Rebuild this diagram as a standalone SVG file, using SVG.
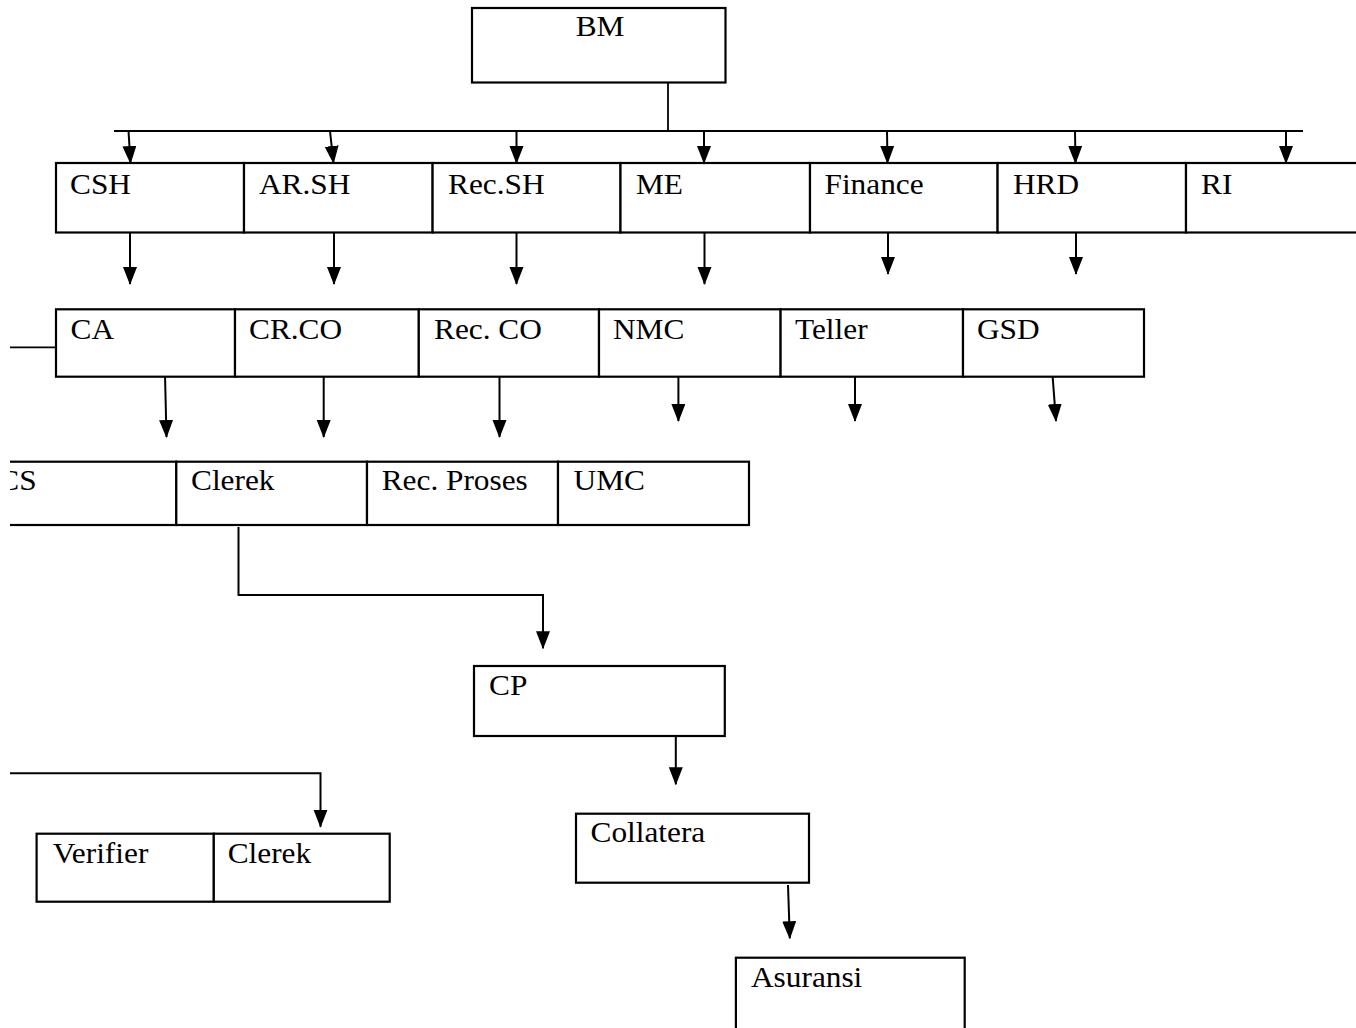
<svg xmlns="http://www.w3.org/2000/svg" width="1356" height="1028" viewBox="0 0 1356 1028">
<style>
.box{fill:#fff;stroke:#000;stroke-width:2.2}
.lbl{font-family:"Liberation Serif","Times New Roman",serif;font-size:29px;fill:#000}
.ln{fill:none;stroke:#000;stroke-width:1.8}
.arr{fill:none;stroke:#000;stroke-width:2;marker-end:url(#ah)}
</style>
<defs>
<marker id="ah" markerUnits="userSpaceOnUse" markerWidth="20" markerHeight="16" refX="17" refY="7" orient="auto">
<path d="M0,0 L18,7 L0,14 z" fill="#000"/>
</marker>
<clipPath id="pg"><rect x="10" y="0" width="1346" height="1028"/></clipPath>
</defs>
<rect x="0" y="0" width="1356" height="1028" fill="#fff"/>
<g clip-path="url(#pg)">
<g id="connectors">
<line class="ln" x1="668" y1="82" x2="668" y2="131"/>
<line class="ln" x1="114" y1="131" x2="1303" y2="131" stroke-width="2.2"/>
<line class="arr" x1="128.5" y1="131" x2="130.5" y2="163"/>
<line class="arr" x1="330" y1="131" x2="333.5" y2="163"/>
<line class="arr" x1="516.5" y1="131" x2="516.5" y2="163"/>
<line class="arr" x1="704" y1="131" x2="704" y2="163"/>
<line class="arr" x1="887" y1="131" x2="887.5" y2="163"/>
<line class="arr" x1="1075" y1="131" x2="1075.5" y2="163"/>
<line class="arr" x1="1286" y1="131" x2="1286" y2="163"/>
<line class="arr" x1="130" y1="232" x2="130" y2="284"/>
<line class="arr" x1="334" y1="232" x2="334" y2="284"/>
<line class="arr" x1="516.5" y1="232" x2="516.5" y2="284"/>
<line class="arr" x1="704.5" y1="232" x2="704.5" y2="284"/>
<line class="arr" x1="888" y1="232" x2="888" y2="274"/>
<line class="arr" x1="1076" y1="232" x2="1076" y2="274"/>
<line class="ln" x1="0" y1="347.3" x2="56" y2="347.3"/>
<line class="arr" x1="165" y1="375" x2="166.5" y2="437"/>
<line class="arr" x1="323.7" y1="375" x2="323.7" y2="437"/>
<line class="arr" x1="499.5" y1="375" x2="499.5" y2="437"/>
<line class="arr" x1="678.4" y1="375" x2="678.4" y2="421"/>
<line class="arr" x1="855" y1="375" x2="855" y2="421"/>
<line class="arr" x1="1052.5" y1="375" x2="1056" y2="421"/>
<polyline class="arr" points="238.5,527 238.5,595 543,595 543,648.3"/>
<line class="arr" x1="675.8" y1="730.7" x2="675.8" y2="784.3"/>
<line class="arr" x1="788" y1="885" x2="789.8" y2="938.3"/>
<polyline class="arr" points="0,773.3 320.5,773.3 320.5,826.7"/>
</g>
<g id="node-bm"><rect class="box" x="472" y="8" width="253.5" height="74.5"/><text class="lbl" text-anchor="middle" transform="translate(600,36) scale(1.08,1)">BM</text></g>
<g id="node-csh"><rect class="box" x="56" y="163" width="188" height="69.5"/><text class="lbl" transform="translate(70,193.5) scale(1.08,1)">CSH</text></g>
<g id="node-arsh"><rect class="box" x="244" y="163" width="188.6" height="69.5"/><text class="lbl" transform="translate(259,193.5) scale(1.08,1)">AR.SH</text></g>
<g id="node-recsh"><rect class="box" x="432.6" y="163" width="187.9" height="69.5"/><text class="lbl" transform="translate(448,193.5) scale(1.08,1)">Rec.SH</text></g>
<g id="node-me"><rect class="box" x="620.5" y="163" width="189.5" height="69.5"/><text class="lbl" transform="translate(636,193.5) scale(1.08,1)">ME</text></g>
<g id="node-finance"><rect class="box" x="810" y="163" width="187.6" height="69.5"/><text class="lbl" transform="translate(824.5,193.5) scale(1.08,1)">Finance</text></g>
<g id="node-hrd"><rect class="box" x="997.6" y="163" width="188.4" height="69.5"/><text class="lbl" transform="translate(1013,193.5) scale(1.08,1)">HRD</text></g>
<g id="node-ri"><rect class="box" x="1186" y="163" width="190" height="69.5"/><text class="lbl" transform="translate(1201,193.5) scale(1.08,1)">RI</text></g>
<g id="node-ca"><rect class="box" x="56" y="309.3" width="179" height="67.4"/><text class="lbl" transform="translate(70.5,339) scale(1.08,1)">CA</text></g>
<g id="node-crco"><rect class="box" x="235" y="309.3" width="183.8" height="67.4"/><text class="lbl" transform="translate(249,339) scale(1.08,1)">CR.CO</text></g>
<g id="node-recco"><rect class="box" x="418.8" y="309.3" width="180.2" height="67.4"/><text class="lbl" transform="translate(434,339) scale(1.08,1)">Rec. CO</text></g>
<g id="node-nmc"><rect class="box" x="599" y="309.3" width="181.6" height="67.4"/><text class="lbl" transform="translate(613,339) scale(1.08,1)">NMC</text></g>
<g id="node-teller"><rect class="box" x="780.6" y="309.3" width="182.4" height="67.4"/><text class="lbl" transform="translate(795,339) scale(1.08,1)">Teller</text></g>
<g id="node-gsd"><rect class="box" x="963" y="309.3" width="181" height="67.4"/><text class="lbl" transform="translate(977,339) scale(1.08,1)">GSD</text></g>
<g id="node-cs"><rect class="box" x="-20" y="461.7" width="196.3" height="63.3"/><text class="lbl" text-anchor="end" transform="translate(36.6,490) scale(1.08,1)">CS</text></g>
<g id="node-clerek1"><rect class="box" x="176.3" y="461.7" width="190.7" height="63.3"/><text class="lbl" transform="translate(191,490) scale(1.08,1)">Clerek</text></g>
<g id="node-recproses"><rect class="box" x="367" y="461.7" width="191" height="63.3"/><text class="lbl" transform="translate(381.7,490) scale(1.08,1)">Rec. Proses</text></g>
<g id="node-umc"><rect class="box" x="558" y="461.7" width="191" height="63.3"/><text class="lbl" transform="translate(573.6,490) scale(1.08,1)">UMC</text></g>
<g id="node-cp"><rect class="box" x="474" y="666" width="250.8" height="70"/><text class="lbl" transform="translate(489,695.3) scale(1.08,1)">CP</text></g>
<g id="node-collatera"><rect class="box" x="576" y="813.7" width="233" height="69"/><text class="lbl" transform="translate(590.5,842) scale(1.08,1)">Collatera</text></g>
<g id="node-asuransi"><rect class="box" x="735.9" y="957.7" width="228.8" height="100"/><text class="lbl" transform="translate(751,986.7) scale(1.08,1)">Asuransi</text></g>
<g id="node-verifier"><rect class="box" x="36.6" y="833.7" width="177.2" height="68"/><text class="lbl" transform="translate(52.7,862.7) scale(1.08,1)">Verifier</text></g>
<g id="node-clerek2"><rect class="box" x="213.8" y="833.7" width="175.9" height="68"/><text class="lbl" transform="translate(227.7,862.7) scale(1.08,1)">Clerek</text></g>
</g>
</svg>
